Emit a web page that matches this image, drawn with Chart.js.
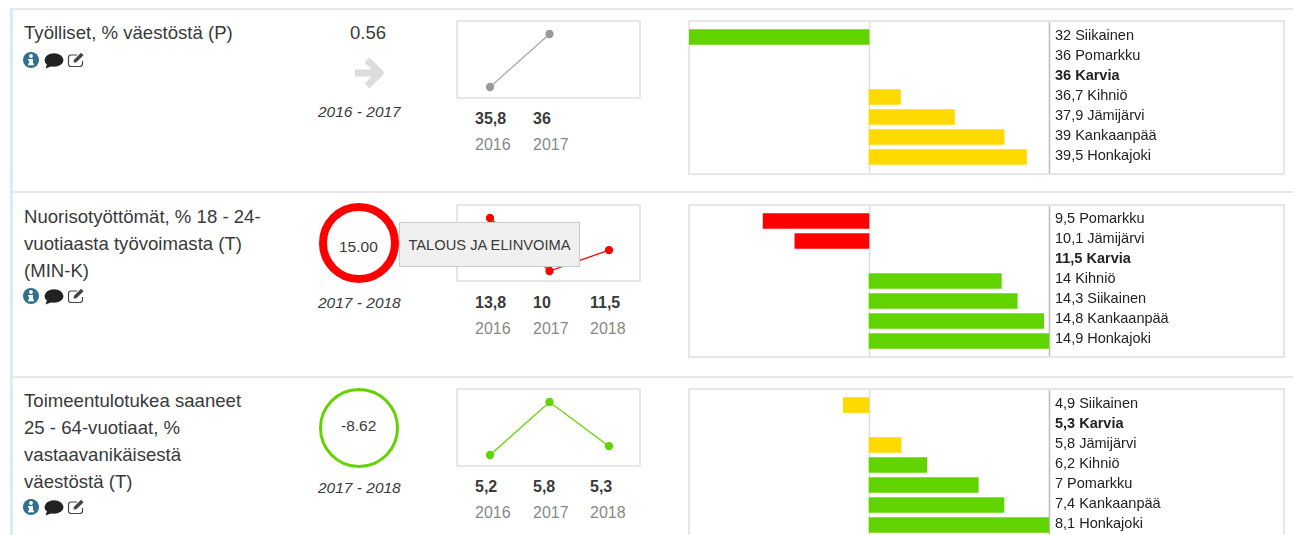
<!DOCTYPE html>
<html>
<head>
<meta charset="utf-8">
<title>Indikaattorit</title>
<script src="https://cdn.jsdelivr.net/npm/chart.js@4"></script>
<style>
  html, body { margin: 0; padding: 0; background: #fff; width: 1293px; height: 535px; overflow: hidden; }
  body { position: relative; font-family: "Liberation Sans", Arial, sans-serif; color: #3a3a3a; }
  .abs { position: absolute; }
  .txt { position: absolute; white-space: nowrap; transform: translateY(-50%); line-height: 1; }
  .box { position: absolute; box-sizing: border-box; border: 2px solid #e6e6e6; background: #fff; }
  canvas { position: absolute; left: 0; top: 0; }
  .sep { position: absolute; left: 10px; width: 1283px; height: 2px; background: #e8e8e8; }
  .ring { position: absolute; box-sizing: border-box; border-radius: 50%; }
  .tip { position: absolute; left: 399px; top: 222px; width: 181px; height: 45px; box-sizing: border-box; background: #f0f0f0; border: 1px solid #ccc; font-size: 14.7px; line-height: 45px; text-align: center; color: #3a3a3a; z-index: 5; }
</style>
</head>
<body>
<div class="abs" style="left:10px;top:9px;width:3px;height:526px;background:#d9edf7"></div>
<div class="sep" style="top:8px"></div>
<div class="sep" style="top:191px"></div>
<div class="sep" style="top:376px"></div>
<div class="tip">TALOUS JA ELINVOIMA</div>

<script>
const GREEN = '#61d400';
const YELLOW = '#ffd900';
const RED = '#ff0000';
const GRAY = '#a8a8a8';

// line charts (years and values per row)
const yearsA = ['2016', '2017', ''];
const valuesA = [35.8, 36, null];
const yearsB = ['2016', '2017', '2018'];
const valuesB = [13.8, 10, 11.5];
const yearsC = ['2016', '2017', '2018'];
const valuesC = [5.2, 5.8, 5.3];

// municipality comparison bars
const townsA = ['Siikainen', 'Pomarkku', 'Karvia', 'Kihniö', 'Jämijärvi', 'Kankaanpää', 'Honkajoki'];
const townValuesA = [32, 36, 36, 36.7, 37.9, 39, 39.5];
const townColorsA = [GREEN, GREEN, GREEN, YELLOW, YELLOW, YELLOW, YELLOW];

const townsB = ['Pomarkku', 'Jämijärvi', 'Karvia', 'Kihniö', 'Siikainen', 'Kankaanpää', 'Honkajoki'];
const townValuesB = [9.5, 10.1, 11.5, 14, 14.3, 14.8, 14.9];
const townColorsB = [RED, RED, RED, GREEN, GREEN, GREEN, GREEN];

const townsC = ['Siikainen', 'Karvia', 'Jämijärvi', 'Kihniö', 'Pomarkku', 'Kankaanpää', 'Honkajoki'];
const townValuesC = [4.9, 5.3, 5.8, 6.2, 7, 7.4, 8.1];
const townColorsC = [YELLOW, YELLOW, YELLOW, GREEN, GREEN, GREEN, GREEN];

function put(text, x, y, size, extra) {
  const el = document.createElement('div');
  el.className = 'txt';
  el.textContent = text;
  el.style.left = x + 'px';
  el.style.top = y + 'px';
  el.style.fontSize = size + 'px';
  if (extra) el.style.cssText += extra;
  document.body.appendChild(el);
  return el;
}

function icons(x, y) {
  const el = document.createElement('div');
  el.className = 'abs';
  el.style.left = x + 'px';
  el.style.top = y + 'px';
  el.innerHTML = `<svg width="64" height="18" viewBox="0 0 64 18">
    <circle cx="8" cy="9" r="8" fill="#31708f"/>
    <rect x="6" y="8" width="4" height="6" fill="#fff"/><rect x="5" y="12.5" width="6" height="1.8" fill="#fff"/>
    <rect x="5" y="8" width="4" height="1.6" fill="#fff"/><circle cx="8" cy="5" r="1.9" fill="#fff"/>
    <ellipse cx="31" cy="9" rx="9.5" ry="6.8" fill="#222"/><path d="M24 13 L22.5 17.5 L29 15 Z" fill="#222"/>
    <path d="M54 4 H48 a2.5 2.5 0 0 0 -2.5 2.5 V13 a2.5 2.5 0 0 0 2.5 2.5 H57 a2.5 2.5 0 0 0 2.5 -2.5 V10" fill="none" stroke="#444" stroke-width="1.2"/>
    <path d="M50.5 11.5 L51 8.8 L58 1.8 L60.6 4.3 L53.4 11.3 Z" fill="#444"/>
  </svg>`;
  document.body.appendChild(el);
}

function ring(cx, cy, size, width, color) {
  const el = document.createElement('div');
  el.className = 'ring';
  el.style.cssText += `left:${cx - size / 2}px;top:${cy - size / 2}px;width:${size}px;height:${size}px;border:${width}px solid ${color}`;
  document.body.appendChild(el);
}

function lineChart(top, height, years, values, lineColor, pointColor) {
  const box = document.createElement('div');
  box.className = 'box';
  box.style.cssText += `left:456px;top:${top}px;width:185px;height:${height}px`;
  const canvas = document.createElement('canvas');
  canvas.width = 181;
  canvas.height = height - 4;
  box.appendChild(canvas);
  document.body.appendChild(box);

  const known = values.filter(v => v !== null);
  new Chart(canvas.getContext('2d'), {
    type: 'line',
    data: {
      labels: years,
      datasets: [{
        data: values,
        borderColor: lineColor,
        borderWidth: 1.3,
        pointBackgroundColor: pointColor,
        pointBorderColor: pointColor,
        pointRadius: 3.5,
        tension: 0,
        clip: false
      }]
    },
    options: {
      responsive: false,
      animation: false,
      layout: { padding: { left: 32, right: 30, top: 12, bottom: height - 4 - 12 - 53 } },
      plugins: { legend: { display: false }, tooltip: { enabled: false } },
      scales: {
        x: { display: false },
        y: { display: false, min: Math.min(...known), max: Math.max(...known) }
      }
    }
  });

  const cols = [475, 533, 590];
  values.forEach((v, i) => {
    if (v === null) return;
    put(String(v).replace('.', ','), cols[i], top + 98.5, 16, 'font-weight:bold');
    put(years[i], cols[i], top + 124.5, 16, 'color:#888');
  });
}

// base and right guide lines run through the whole box, past the chart area
const guideLines = {
  id: 'guideLines',
  beforeDatasetsDraw(chart, args, opts) {
    const { ctx, scales } = chart;
    ctx.save();
    [[opts.base, '#dddddd'], [scales.x.max, '#bbbbbb']].forEach(([value, color]) => {
      const x = Math.round(scales.x.getPixelForValue(value)) + 0.5;
      ctx.strokeStyle = color;
      ctx.lineWidth = 1.5;
      ctx.beginPath();
      ctx.moveTo(x, 0);
      ctx.lineTo(x, chart.height);
      ctx.stroke();
    });
    ctx.restore();
  }
};

function townChart(top, height, towns, townValues, colors, base, min, max, labelShift) {
  const box = document.createElement('div');
  box.className = 'box';
  box.style.cssText += `left:688px;top:${top}px;width:597px;height:${height}px`;
  const canvas = document.createElement('canvas');
  canvas.width = 593;
  canvas.height = height - 4;
  canvas.style.left = '-1px';
  box.appendChild(canvas);
  document.body.appendChild(box);

  new Chart(canvas.getContext('2d'), {
    type: 'bar',
    plugins: [guideLines],
    data: {
      labels: towns.map((t, i) => String(townValues[i]).replace('.', ',') + ' ' + t),
      datasets: [{
        data: townValues.map(v => (v === base ? null : [base, v])),
        backgroundColor: colors,
        borderWidth: 0,
        borderSkipped: false,
        barThickness: 15
      }]
    },
    options: {
      indexAxis: 'y',
      responsive: false,
      animation: false,
      layout: { padding: { left: 0, right: 0, top: 5, bottom: height - 4 - 5 - 140 } },
      plugins: { legend: { display: false }, tooltip: { enabled: false }, guideLines: { base: base } },
      scales: {
        x: {
          min: min,
          max: max,
          ticks: { display: false },
          border: { display: false },
          grid: { display: false, drawTicks: false }
        },
        y: {
          position: 'right',
          afterFit: s => { s.width = 593 - 360; s.paddingTop = 0; s.paddingBottom = 0; },
          grid: { display: false, drawTicks: false },
          border: { display: false },
          ticks: {
            color: '#222',
            padding: 6,
            labelOffset: labelShift,
            autoSkip: false,
            crossAlign: 'near',
            font: ctx => ({
              family: '"Liberation Sans", Arial, sans-serif',
              size: 14.5,
              weight: towns[ctx.index] === 'Karvia' ? 'bold' : 'normal'
            })
          }
        }
      }
    }
  });
}

// row 1
put('Työlliset, % väestöstä (P)', 24, 33, 18.6);
icons(23, 51);
put('0.56', 350, 33, 18.5);
const arrow = document.createElement('div');
arrow.className = 'abs';
arrow.style.cssText = 'left:352px;top:56px';
arrow.innerHTML = '<svg width="33" height="34" viewBox="0 0 33 34"><path d="M3 17 H27 M15 4 L28 17 L15 30" fill="none" stroke="#dcdcdc" stroke-width="7" stroke-linejoin="round"/></svg>';
document.body.appendChild(arrow);
put('2016 - 2017', 318, 112, 15.5, 'font-style:italic');
lineChart(20, 79, yearsA, valuesA, GRAY, '#999999');
townChart(20, 155, townsA, townValuesA, townColorsA, 36, 32, 40, -1);

// row 2
['Nuorisotyöttömät, % 18 - 24-', 'vuotiaasta työvoimasta (T)', '(MIN-K)'].forEach((line, i) => put(line, 24, 217 + i * 27, 18.6));
icons(23, 287);
ring(358.5, 243, 80, 8, RED);
put('15.00', 339, 247, 15.5);
put('2017 - 2018', 318, 303, 15.5, 'font-style:italic');
lineChart(204, 78, yearsB, valuesB, RED, RED);
townChart(204, 154, townsB, townValuesB, townColorsB, 11.5, 8.1, 14.9, -2);

// row 3
['Toimeentulotukea saaneet', '25 - 64-vuotiaat, %', 'vastaavanikäisestä', 'väestöstä (T)'].forEach((line, i) => put(line, 24, 401 + i * 27, 18.6));
icons(23, 498);
ring(358.5, 428, 80, 3, GREEN);
put('-8.62', 341, 426, 15.5);
put('2017 - 2018', 318, 488, 15.5, 'font-style:italic');
lineChart(388, 79, yearsC, valuesC, GREEN, GREEN);
townChart(388, 154, townsC, townValuesC, townColorsC, 5.3, 2.5, 8.1, -1);
</script>
</body>
</html>
